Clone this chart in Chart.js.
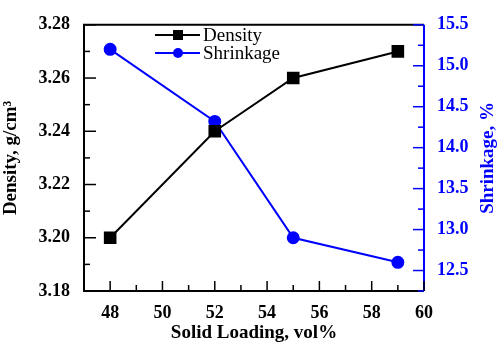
<!DOCTYPE html>
<html>
<head>
<meta charset="utf-8">
<script src="https://cdn.jsdelivr.net/npm/chart.js@4"></script>
<style>
  html, body { margin: 0; padding: 0; background: #fff; }
  #wrap { width: 498px; height: 344px; }
</style>
</head>
<body>
<div id="wrap"><canvas id="chart"></canvas></div>
<script>
// Data
const solidLoading = [48, 52, 55, 59];
const density = [3.20, 3.24, 3.26, 3.27];
const shrinkage = [15.2, 14.32, 12.9, 12.6];

const FONT = '"Liberation Serif", "Times New Roman", serif';
const BLUE = '#0000ff';

// ticks pointing into the plot, the frame, right title and the legend box
const frameTicks = {
  id: 'frameTicks',
  afterDraw(chart) {
    const { ctx, chartArea: a, scales } = chart;
    const x = scales.x, y = scales.y, y2 = scales.y2;
    ctx.save();
    ctx.lineWidth = 2;
    ctx.strokeStyle = '#000';
    ctx.beginPath();
    ctx.moveTo(a.right, a.top); ctx.lineTo(a.left, a.top);
    ctx.lineTo(a.left, a.bottom); ctx.lineTo(a.right, a.bottom);
    ctx.stroke();
    ctx.strokeStyle = BLUE;
    ctx.beginPath();
    ctx.moveTo(a.right, a.top); ctx.lineTo(a.right, a.bottom);
    ctx.stroke();

    ctx.lineWidth = 1.5;
    // x ticks
    ctx.strokeStyle = '#000';
    for (let v = 47; v <= 60; v++) {
      const px = x.getPixelForValue(v);
      const len = v % 2 === 0 ? 10 : 6;
      ctx.beginPath(); ctx.moveTo(px, a.bottom); ctx.lineTo(px, a.bottom - len); ctx.stroke();
    }
    // left ticks
    for (let i = 0; i <= 10; i++) {
      const v = 3.18 + i * 0.01;
      const py = y.getPixelForValue(v);
      const len = i % 2 === 0 ? 12 : 6;
      ctx.beginPath(); ctx.moveTo(a.left, py); ctx.lineTo(a.left + len, py); ctx.stroke();
    }
    // right ticks
    ctx.strokeStyle = BLUE;
    for (let i = 0; i <= 13; i++) {
      const v = 12.25 + i * 0.25;
      const py = y2.getPixelForValue(v);
      const len = i % 2 === 1 ? 11 : 6;
      ctx.beginPath(); ctx.moveTo(a.right, py); ctx.lineTo(a.right - len, py); ctx.stroke();
    }

    // right axis title, reading bottom to top
    ctx.save();
    ctx.translate(488, (a.top + a.bottom) / 2);
    ctx.rotate(-Math.PI / 2);
    ctx.font = 'bold 19px ' + FONT;
    ctx.fillStyle = BLUE;
    ctx.textAlign = 'center';
    ctx.textBaseline = 'middle';
    ctx.fillText('Shrinkage, %', 0, 0);
    ctx.restore();

    // legend
    const rows = [
      { ds: chart.data.datasets[0], y: 35 },
      { ds: chart.data.datasets[1], y: 53 }
    ];
    ctx.font = '19px ' + FONT;
    ctx.textBaseline = 'middle';
    rows.forEach(r => {
      ctx.strokeStyle = r.ds.borderColor;
      ctx.fillStyle = r.ds.borderColor;
      ctx.lineWidth = 2;
      ctx.beginPath(); ctx.moveTo(155, r.y); ctx.lineTo(200, r.y); ctx.stroke();
      if (r.ds.pointStyle === 'rect') {
        ctx.fillRect(173, r.y - 5, 10, 10);
      } else {
        ctx.beginPath(); ctx.arc(178, r.y, 5, 0, Math.PI * 2); ctx.fill();
      }
      ctx.fillStyle = '#000';
      ctx.fillText(r.ds.label, 203, r.y + 1);
    });
    ctx.restore();
  }
};

new Chart(document.getElementById('chart'), {
  type: 'line',
  data: {
    datasets: [
      {
        label: 'Density',
        data: solidLoading.map((v, i) => ({ x: v, y: density[i] })),
        borderColor: '#000',
        backgroundColor: '#000',
        borderWidth: 2,
        pointStyle: 'rect',
        pointRadius: 7.5,
        yAxisID: 'y'
      },
      {
        label: 'Shrinkage',
        data: solidLoading.map((v, i) => ({ x: v, y: shrinkage[i] })),
        borderColor: BLUE,
        backgroundColor: BLUE,
        borderWidth: 2,
        pointStyle: 'circle',
        pointRadius: 5.5,
        yAxisID: 'y2'
      }
    ]
  },
  options: {
    responsive: true,
    maintainAspectRatio: false,
    animation: false,
    layout: { padding: { top: 18, left: 0, right: 0, bottom: 0 } },
    plugins: { legend: { display: false }, tooltip: { enabled: false } },
    scales: {
      x: {
        type: 'linear',
        min: 47, max: 60,
        afterBuildTicks: s => { s.ticks = [48, 50, 52, 54, 56, 58, 60].map(v => ({ value: v })); },
        afterFit: s => { s.height = 53; },
        grid: { display: false, drawTicks: false },
        border: { display: false },
        ticks: { color: '#000', padding: 12, font: { family: FONT, size: 18, weight: 'bold' } },
        title: { display: true, text: 'Solid Loading, vol%', color: '#000', padding: 0,
                 font: { family: FONT, size: 19, weight: 'bold' } }
      },
      y: {
        position: 'left',
        min: 3.18, max: 3.28,
        afterBuildTicks: s => { s.ticks = [3.18, 3.20, 3.22, 3.24, 3.26, 3.28].map(v => ({ value: v })); },
        afterFit: s => { s.width = 84; },
        grid: { display: false, drawTicks: false },
        border: { display: false },
        ticks: { color: '#000', padding: 14, callback: v => v.toFixed(2),
                 font: { family: FONT, size: 18, weight: 'bold' } },
        title: { display: true, text: 'Density, g/cm\u00b3', color: '#000', padding: 0,
                 font: { family: FONT, size: 19, weight: 'bold' } }
      },
      y2: {
        position: 'right',
        min: 12.25, max: 15.5,
        afterBuildTicks: s => { s.ticks = [12.5, 13.0, 13.5, 14.0, 14.5, 15.0, 15.5].map(v => ({ value: v })); },
        afterFit: s => { s.width = 74; },
        grid: { display: false, drawTicks: false },
        border: { display: false },
        ticks: { color: BLUE, padding: 13, callback: v => v.toFixed(1),
                 font: { family: FONT, size: 18, weight: 'bold' } },
        title: { display: false }
      }
    }
  },
  plugins: [frameTicks]
});
</script>
</body>
</html>
